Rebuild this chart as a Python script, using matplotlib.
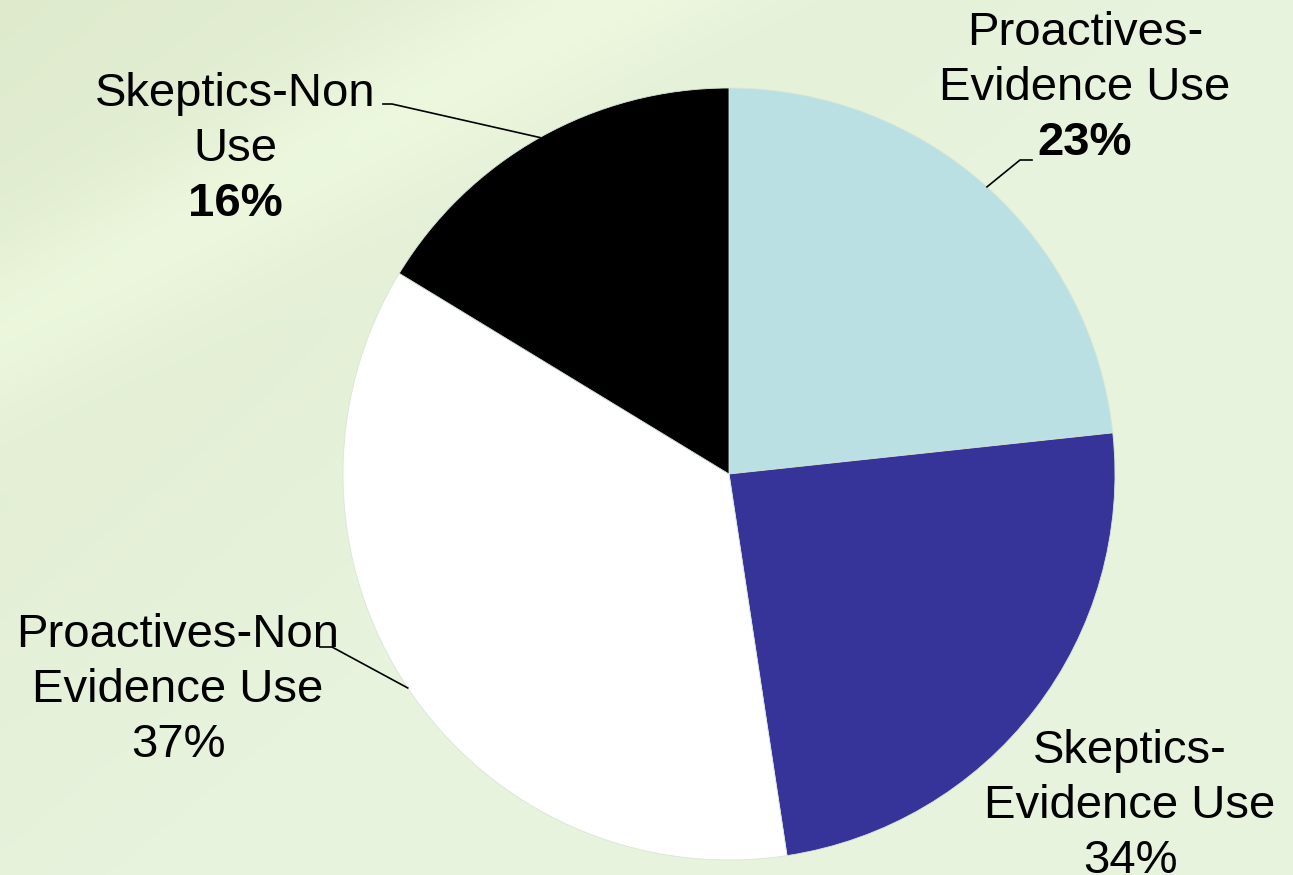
import numpy as np
import matplotlib
matplotlib.use("Agg")
import matplotlib.pyplot as plt

categories = [["Proactives-", "Evidence Use"], ["Skeptics-", "Evidence Use"],
              ["Proactives-Non", "Evidence Use"], ["Skeptics-Non", "Use"]]
values = [23.3, 24.3, 36.1, 16.3]
pct_labels = ["23%", "34%", "37%", "16%"]
pct_bold = [True, False, False, True]
colors = ["#BBE0E3", "#363499", "#FFFFFF", "#000000"]

W, H = 1293, 875
fig = plt.figure(figsize=(W / 100, H / 100), dpi=100)
ax = fig.add_axes([0, 0, 1, 1])

# background gradient
yy, xx = np.mgrid[0:H, 0:W]
base = np.array([0.910, 0.953, 0.867])
corner = np.array([0.875, 0.920, 0.805])
t = np.clip((xx + yy * 1.2) / (W * 0.9), 0, 1)
img = corner[None, None, :] * (1 - t[..., None]) + base[None, None, :] * t[..., None]
band = np.exp(-(((xx * 0.55 + yy) - 330) / 90.0) ** 2) * 0.035
img = np.clip(img + band[..., None], 0, 1)
ax.imshow(img, extent=[0, W, 0, H], origin="upper", zorder=0, aspect="auto")

cx, cy, R = 729, H - 474, 386
wedges, _ = ax.pie(values, colors=colors, startangle=90, counterclock=False,
                   radius=R, center=(cx, cy), frame=True,
                   wedgeprops=dict(edgecolor="#D8E6D8", linewidth=0.6))
for w in wedges:
    w.set_zorder(2)
ax.set_xlim(0, W)
ax.set_ylim(0, H)
ax.axis("off")

font = "Liberation Sans"
fs = 34
# label layout: x center and baseline of first line (pixels from top)
label_pos = [(1085, 45), (1130, 763), (178, 647), (235, 106)]
line_h = 55
for i, (lx, ly) in enumerate(label_pos):
    lines = categories[i] + [pct_labels[i]]
    for k, s in enumerate(lines):
        bold = (k == 2 and pct_bold[i])
        ax.text(lx, H - (ly + k * line_h), s, ha="center", va="baseline",
                fontsize=fs, family=font, zorder=3,
                fontweight="bold" if bold else "normal")

# leader lines: from wedge mid-angle on the rim to an elbow near the label
elbows = {0: [(1020, 160), (1032, 160)], 2: [(332, 647), (320, 647)],
          3: [(392, 104), (383, 104)]}
for i, pts in elbows.items():
    w = wedges[i]
    mid = np.deg2rad((w.theta1 + w.theta2) / 2)
    px, py = cx + R * np.cos(mid), cy + R * np.sin(mid)
    xs = [px] + [p[0] for p in pts]
    ys = [py] + [H - p[1] for p in pts]
    ax.plot(xs, ys, color="black", lw=1.2, zorder=3)

fig.savefig("out.png", dpi=100)
